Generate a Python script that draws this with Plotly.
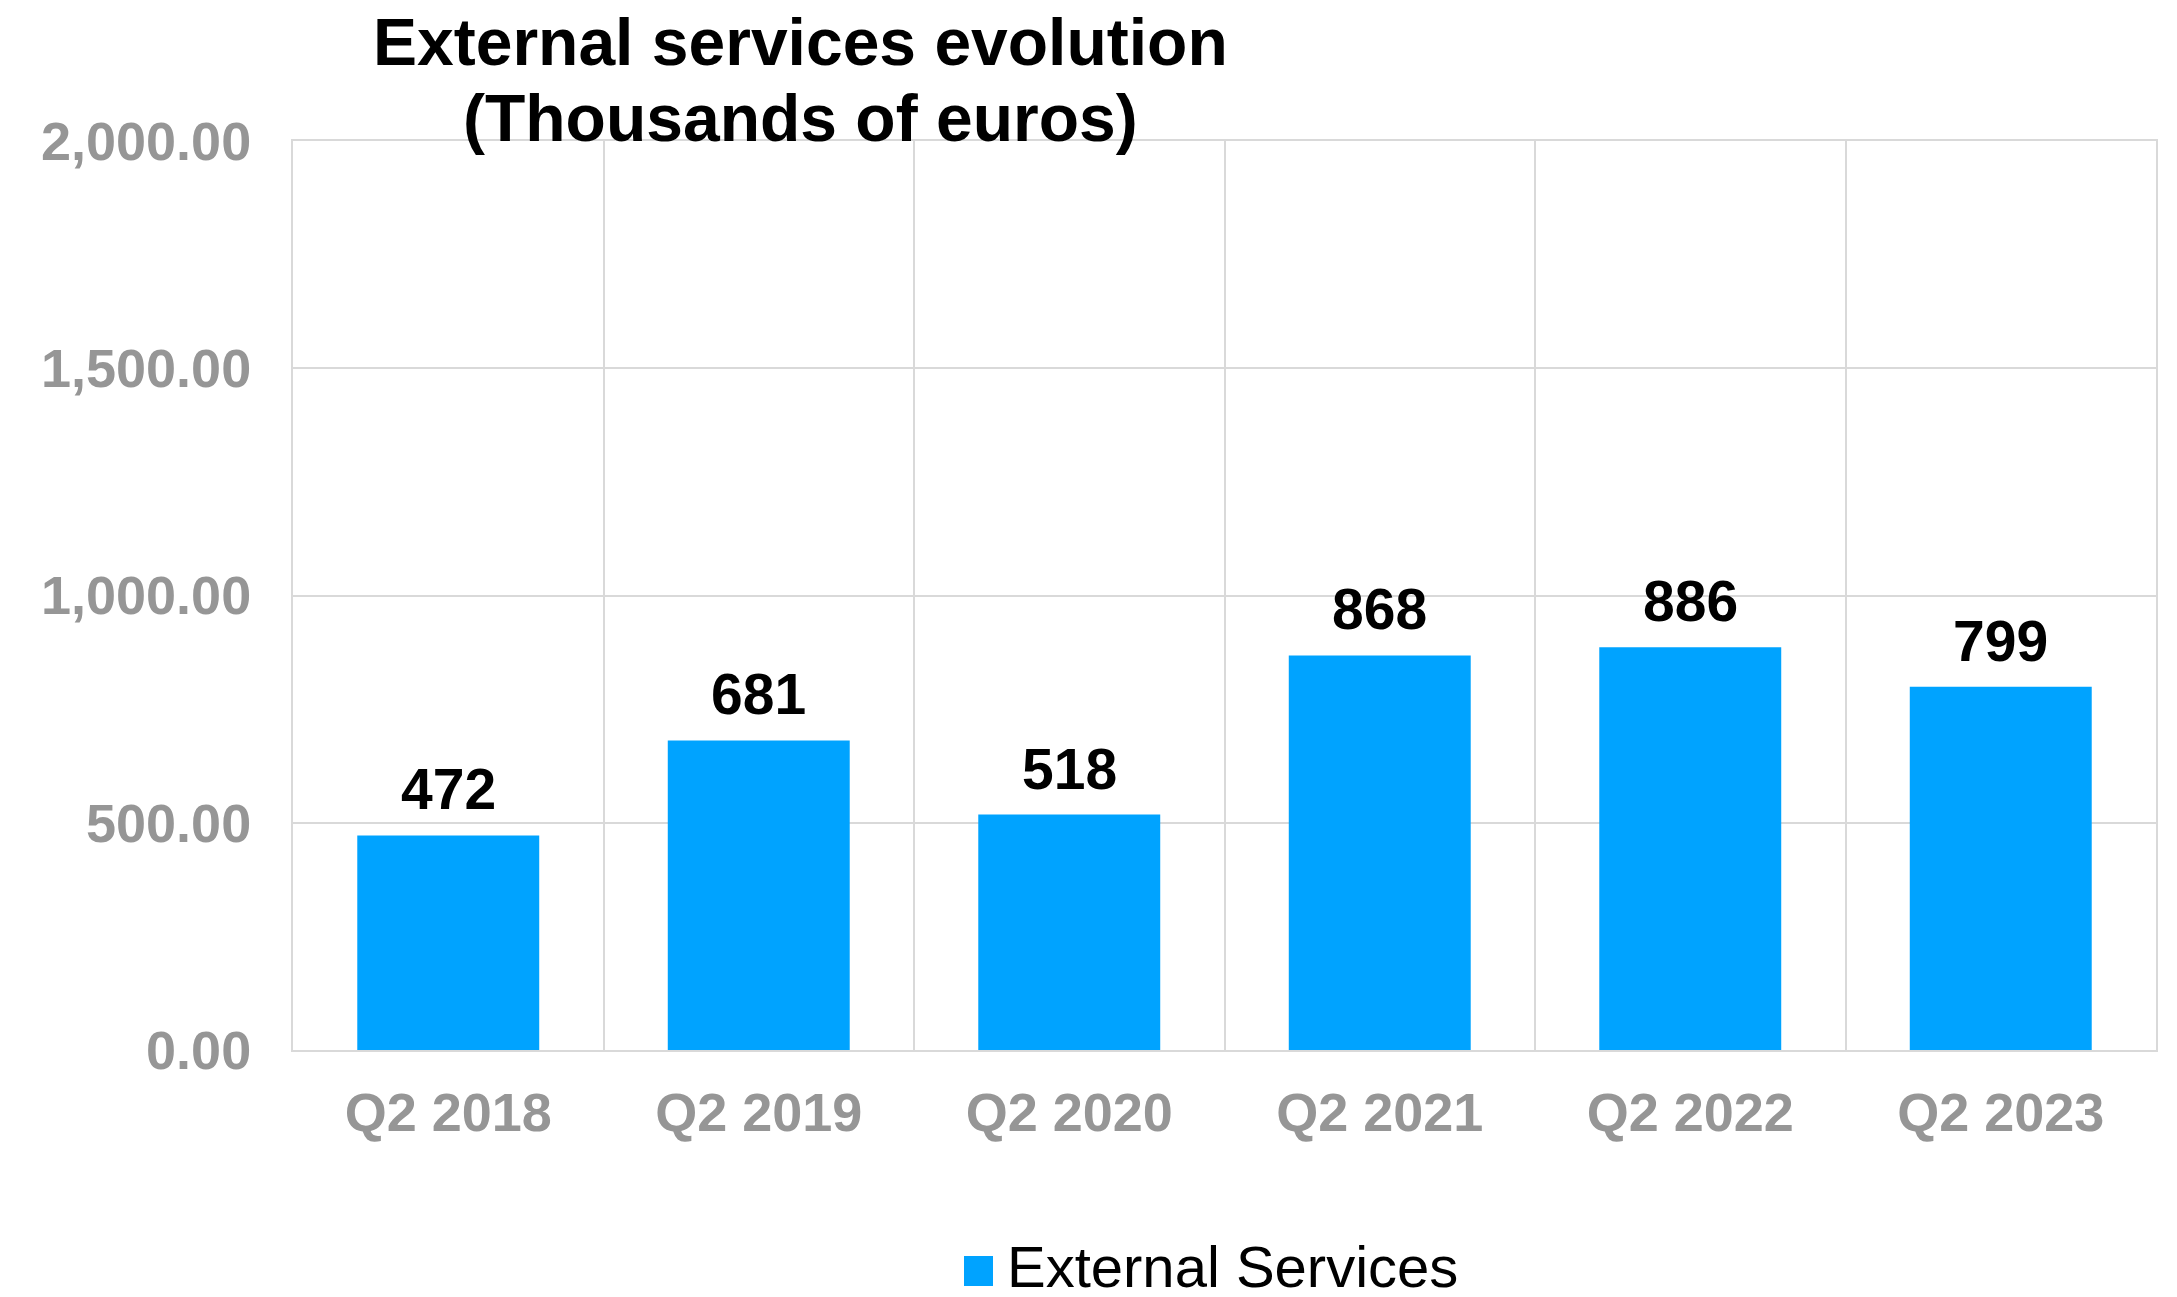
import plotly.graph_objects as go

categories = ["Q2 2018", "Q2 2019", "Q2 2020", "Q2 2021", "Q2 2022", "Q2 2023"]
values = [472, 681, 518, 868, 886, 799]
series_name = "External Services"
title_line1 = "External services evolution"
title_line2 = "(Thousands of euros)"

# page body has an 8px margin: work in figure pixels = screen pixels - OFF
OFF = 8
W, H = 2177 - 2 * OFF, 1297 - 2 * OFF
PLOT_LEFT, PLOT_RIGHT, PLOT_TOP, PLOT_BOTTOM = 293 - OFF, 2156 - OFF, 141 - OFF, 1050 - OFF
L, R, T, B = PLOT_LEFT, W - PLOT_RIGHT, PLOT_TOP, H - PLOT_BOTTOM
FONT = "Liberation Sans, Arial, sans-serif"
BAR_COLOR = "#00A3FF"
GRID = "#D9D9D9"
GRAY = "#969696"

plot_w = PLOT_RIGHT - PLOT_LEFT
plot_h = PLOT_BOTTOM - PLOT_TOP


def px_x(p):
    return (p - OFF - PLOT_LEFT) / plot_w


def px_y(p):
    return (PLOT_BOTTOM - (p - OFF)) / plot_h


fig = go.Figure()
fig.add_trace(go.Bar(
    x=categories, y=values, name=series_name,
    marker=dict(color=BAR_COLOR, line=dict(width=0)),
    showlegend=False, hoverinfo="x+y",
))

annotations = []
for c, v in zip(categories, values):
    annotations.append(dict(
        x=c, y=v, xref="x", yref="y", text=f"{v:,.0f}", showarrow=False,
        yanchor="middle", yshift=46,
        font=dict(family=FONT, size=57, color="black", weight="bold"),
    ))

annotations.append(dict(
    x=px_x(800), y=1, xref="paper", yref="paper",
    text=title_line1, showarrow=False, xanchor="center", yanchor="middle",
    yshift=141 - 42,
    font=dict(family=FONT, size=66, color="black", weight="bold"),
))
annotations.append(dict(
    x=px_x(800), y=1, xref="paper", yref="paper",
    text=title_line2, showarrow=False, xanchor="center", yanchor="middle",
    yshift=141 - 118,
    font=dict(family=FONT, size=66, color="black", weight="bold"),
))

# legend
annotations.append(dict(
    x=px_x(1005), y=px_y(1266), xref="paper", yref="paper",
    text=series_name, showarrow=False, xanchor="left", yanchor="middle",
    font=dict(family=FONT, size=58, color="black"),
))
shapes = [dict(
    type="rect", xref="paper", yref="paper",
    x0=px_x(964), x1=px_x(993), y0=px_y(1286), y1=px_y(1256),
    fillcolor=BAR_COLOR, line=dict(width=0),
)]

fig.update_layout(
    width=W, height=H,
    margin=dict(l=L, r=R, t=T, b=B, pad=0),
    paper_bgcolor="white", plot_bgcolor="white",
    bargap=0.414,
    showlegend=False,
    annotations=annotations,
    shapes=shapes,
    font=dict(family=FONT),
)
fig.update_xaxes(
    type="category", tickson="boundaries",
    showgrid=True, gridcolor=GRID, gridwidth=2,
    showline=True, linecolor=GRID, linewidth=2, mirror=True,
    ticks="", ticklabelstandoff=14,
    tickfont=dict(family=FONT, size=54, color=GRAY, weight="bold"),
)
fig.update_yaxes(
    range=[0, 2000], dtick=500, tickformat=",.2f",
    showgrid=True, gridcolor=GRID, gridwidth=2, zeroline=False,
    showline=True, linecolor=GRID, linewidth=2, mirror=True,
    ticks="", ticklabelstandoff=29,
    tickfont=dict(family=FONT, size=54, color=GRAY, weight="bold"),
)

fig.write_html("out.html")
